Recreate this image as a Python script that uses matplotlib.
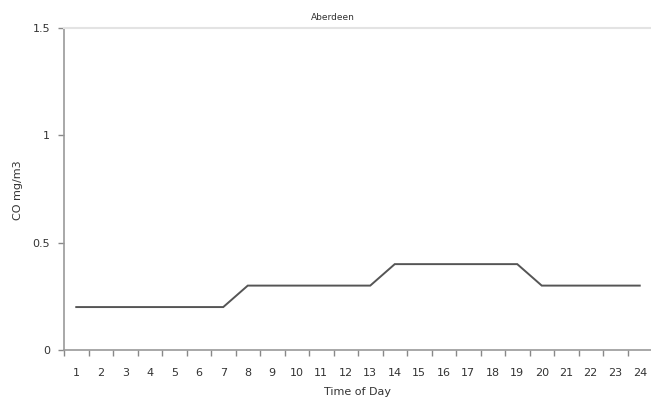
import matplotlib
matplotlib.use("Agg")
import matplotlib.pyplot as plt
import numpy as np

hours = list(range(1, 25))
co_values = [0.2, 0.2, 0.2, 0.2, 0.2, 0.2, 0.2,
             0.3, 0.3, 0.3, 0.3, 0.3, 0.3,
             0.4, 0.4, 0.4, 0.4, 0.4, 0.4,
             0.3, 0.3, 0.3, 0.3, 0.3]
y_ticks = [0, 0.5, 1, 1.5]
y_tick_labels = ["0", "0.5", "1", "1.5"]

W, H = 651, 403
fig = plt.figure(figsize=(W/100, H/100), dpi=100)
left, right, bottom, top = 64, 652, 350, 28
ax = fig.add_axes([left/W, (H-bottom)/H, (right-left)/W, (bottom-top)/H])

ax.plot(hours, co_values, color="#555555", lw=1.4, solid_joinstyle="miter")
ax.set_xlim(0.5, 24.5)
ax.set_ylim(0, 1.5)

ax.set_xticks(np.arange(0.5, 25, 1))
ax.set_xticklabels([])
ax.set_xticks(hours, minor=True)
ax.set_xticklabels([str(h) for h in hours], minor=True)
ax.tick_params(axis="x", which="major", length=4, width=1, color="#888888", direction="out")
ax.tick_params(axis="x", which="minor", length=0, pad=13, labelsize=8, labelcolor="#333333")
ax.set_yticks(y_ticks)
ax.set_yticklabels(y_tick_labels)
ax.tick_params(axis="y", length=4, width=1, color="#888888", direction="out",
               labelsize=8, labelcolor="#333333", pad=6)

ax.spines["right"].set_visible(False)
ax.spines["top"].set_color("#e3e3e3")
ax.spines["top"].set_linewidth(1.5)
ax.spines["left"].set_color("#999999")
ax.spines["bottom"].set_color("#999999")
ax.spines["left"].set_linewidth(1.2)
ax.spines["bottom"].set_linewidth(1.2)

fig.text(333/W, 1 - 17/H, "Aberdeen", ha="center", va="center", fontsize=6.5, color="#333333")
fig.text(357/W, 1 - 392/H, "Time of Day", ha="center", va="center", fontsize=8, color="#333333")
fig.text(18/W, 1 - 190/H, "CO mg/m3", ha="center", va="center", rotation=90, fontsize=8, color="#333333")

fig.savefig("out.png", dpi=100)
